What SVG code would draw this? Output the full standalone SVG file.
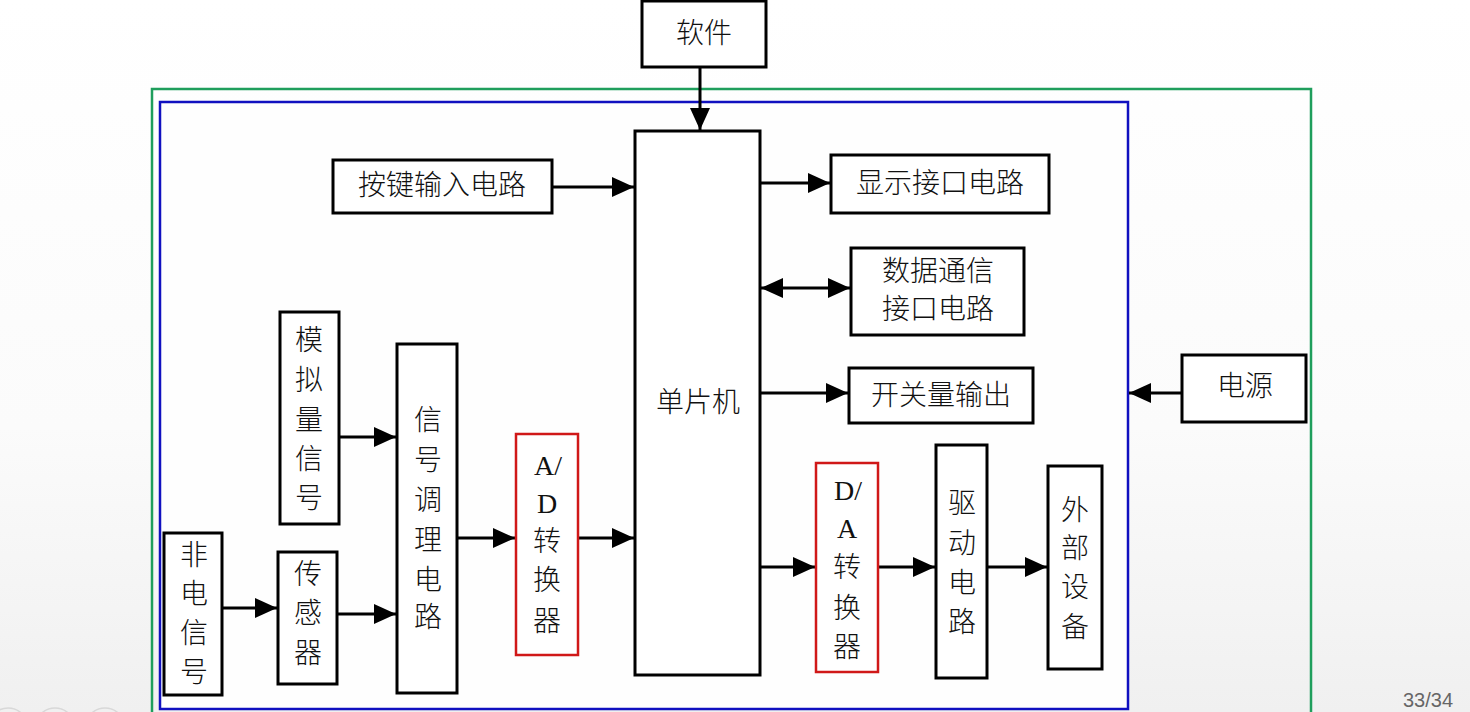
<svg xmlns="http://www.w3.org/2000/svg" width="1470" height="712" viewBox="0 0 1470 712">
<defs>
<linearGradient id="bg" x1="0" y1="0" x2="0" y2="1">
<stop offset="0" stop-color="#ffffff"/>
<stop offset="0.6" stop-color="#fbfbfb"/>
<stop offset="1" stop-color="#f0f0f0"/>
</linearGradient>
<marker id="ah" markerUnits="userSpaceOnUse" markerWidth="24" markerHeight="22" refX="22" refY="11" orient="auto">
<path d="M0,1 L22,11 L0,21 z" fill="#000"/>
</marker>
<marker id="ahs" markerUnits="userSpaceOnUse" markerWidth="24" markerHeight="22" refX="22" refY="11" orient="auto-start-reverse">
<path d="M0,1 L22,11 L0,21 z" fill="#000"/>
</marker>
</defs>
<style>
.box{fill:#fff;stroke:#000;stroke-width:3}
.red{fill:#fff;stroke:#d01818;stroke-width:2.5}
.t{font-family:"Liberation Serif","Noto Sans CJK SC",serif;font-size:28px;font-weight:300;fill:#111;text-anchor:middle;dominant-baseline:central}
.c{stroke:#000;stroke-width:3;fill:none}
</style>
<rect width="1470" height="712" fill="url(#bg)"/>
<g id="frames">
<rect x="152" y="89" width="1159" height="640" fill="none" stroke="#1f9e5c" stroke-width="2.5"/>
<rect x="160" y="102" width="968" height="607" fill="#fefefe" stroke="#1010c0" stroke-width="2.5"/>
</g>
<g id="ui" fill="none" stroke="#d8d8d8" stroke-width="1.5">
<circle cx="8" cy="728" r="20"/>
<circle cx="55" cy="728" r="20"/>
<circle cx="105" cy="728" r="20"/>
<text x="1428" y="707" font-family="Liberation Sans,sans-serif" font-size="20" fill="#666" stroke="none" text-anchor="middle">33/34</text>
</g>
<g id="connectors">
<line class="c" x1="700" y1="67" x2="700" y2="130" marker-end="url(#ah)"/>
<line class="c" x1="552" y1="187" x2="634" y2="187" marker-end="url(#ah)"/>
<line class="c" x1="760" y1="183" x2="830" y2="183" marker-end="url(#ah)"/>
<line class="c" x1="761" y1="288" x2="850" y2="288" marker-start="url(#ahs)" marker-end="url(#ahs)"/>
<line class="c" x1="760" y1="393" x2="848" y2="393" marker-end="url(#ah)"/>
<line class="c" x1="1182" y1="393" x2="1129" y2="393" marker-end="url(#ah)"/>
<line class="c" x1="339" y1="437" x2="396" y2="437" marker-end="url(#ah)"/>
<line class="c" x1="222" y1="608" x2="277" y2="608" marker-end="url(#ah)"/>
<line class="c" x1="337" y1="614" x2="396" y2="614" marker-end="url(#ah)"/>
<line class="c" x1="457" y1="538" x2="515" y2="538" marker-end="url(#ah)"/>
<line class="c" x1="578" y1="538" x2="634" y2="538" marker-end="url(#ah)"/>
<line class="c" x1="760" y1="567" x2="815" y2="567" marker-end="url(#ah)"/>
<line class="c" x1="878" y1="567" x2="935" y2="567" marker-end="url(#ah)"/>
<line class="c" x1="987" y1="567" x2="1047" y2="567" marker-end="url(#ah)"/>
</g>
<g id="software"><rect class="box" x="642" y="1" width="124" height="66"/><text class="t" x="704" y="33">软件</text></g>
<g id="mcu"><rect class="box" x="635" y="131" width="125" height="544"/><text class="t" x="698" y="402">单片机</text></g>
<g id="keys"><rect class="box" x="333" y="160" width="219" height="53"/><text class="t" x="442" y="185">按键输入电路</text></g>
<g id="display"><rect class="box" x="831" y="155" width="218" height="58"/><text class="t" x="940" y="183">显示接口电路</text></g>
<g id="comm"><rect class="box" x="851" y="248" width="173" height="87"/><text class="t" x="938" y="271">数据通信</text><text class="t" x="938" y="309">接口电路</text></g>
<g id="switch"><rect class="box" x="849" y="368" width="184" height="55"/><text class="t" x="941" y="395">开关量输出</text></g>
<g id="power"><rect class="box" x="1182" y="355" width="124" height="67"/><text class="t" x="1245" y="386">电源</text></g>
<g id="analog"><rect class="box" x="280" y="312" width="59" height="212"/>
<text class="t" x="309" y="340">模</text><text class="t" x="309" y="380">拟</text><text class="t" x="309" y="420">量</text><text class="t" x="309" y="459">信</text><text class="t" x="309" y="498">号</text></g>
<g id="cond"><rect class="box" x="397" y="344" width="60" height="349"/>
<text class="t" x="428" y="420">信</text><text class="t" x="428" y="460">号</text><text class="t" x="428" y="500">调</text><text class="t" x="428" y="540">理</text><text class="t" x="428" y="580">电</text><text class="t" x="428" y="617">路</text></g>
<g id="nonelec"><rect class="box" x="164" y="533" width="58" height="162"/>
<text class="t" x="194" y="555">非</text><text class="t" x="194" y="594">电</text><text class="t" x="194" y="633">信</text><text class="t" x="194" y="672">号</text></g>
<g id="sensor"><rect class="box" x="278" y="552" width="59" height="132"/>
<text class="t" x="308" y="574">传</text><text class="t" x="308" y="613">感</text><text class="t" x="308" y="653">器</text></g>
<g id="adc"><rect class="red" x="516" y="434" width="62" height="221"/>
<text class="t" x="548" y="465">A/</text><text class="t" x="547" y="503" font-weight="700">D</text><text class="t" x="547" y="541">转</text><text class="t" x="547" y="580">换</text><text class="t" x="547" y="621">器</text></g>
<g id="dac"><rect class="red" x="816" y="463" width="62" height="209"/>
<text class="t" x="848" y="490">D/</text><text class="t" x="847" y="528">A</text><text class="t" x="847" y="567">转</text><text class="t" x="847" y="608">换</text><text class="t" x="847" y="647">器</text></g>
<g id="driver"><rect class="box" x="936" y="445" width="51" height="233"/>
<text class="t" x="962" y="503">驱</text><text class="t" x="962" y="543">动</text><text class="t" x="962" y="583">电</text><text class="t" x="962" y="622">路</text></g>
<g id="external"><rect class="box" x="1048" y="466" width="54" height="203"/>
<text class="t" x="1075" y="510">外</text><text class="t" x="1075" y="548">部</text><text class="t" x="1075" y="587">设</text><text class="t" x="1075" y="627">备</text></g>
</svg>
